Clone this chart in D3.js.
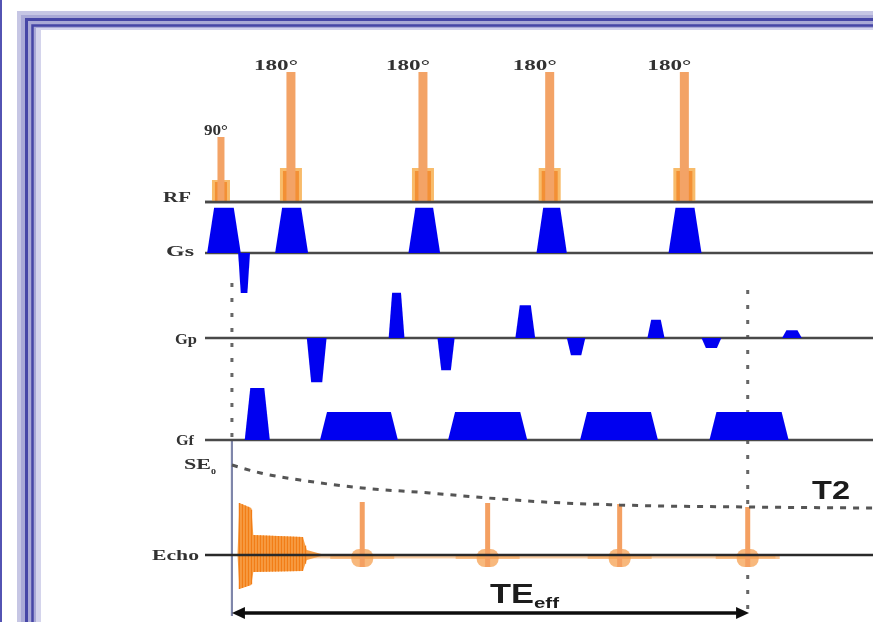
<!DOCTYPE html>
<html>
<head>
<meta charset="utf-8">
<title>Fast spin echo sequence</title>
<script src="https://cdn.jsdelivr.net/npm/d3@7"></script>
<style>
  body { margin: 0; background: #fff; }
  svg { display: block; }
  .lbl { font-family: "Liberation Serif", serif; font-weight: bold; font-size: 15px; fill: #333; }
  .big { font-family: "Liberation Sans", Arial, sans-serif; font-weight: bold; fill: #1a1a1a; }
</style>
</head>
<body>
<div id="chart"></div>
<script>
// --- data (time in ms-ish units, amplitudes normalised) ---
var rfTime = [0, 5.3, 15.3, 24.9, 35.1];
var rfAngle = [90, 180, 180, 180, 180];
var rfLabel = ["90°", "180°", "180°", "180°", "180°"];

// slice select: lobes (start, end, amplitude)
var gsStart = [-1.05, 4.1, 14.2, 23.9, 33.9, 1.3];
var gsEnd   = [1.5, 6.6, 16.6, 26.2, 36.4, 2.2];
var gsAmp   = [0.87, 0.87, 0.87, 0.87, 0.87, -0.77];

// phase encoding
var gpStart = [6.5, 12.7, 16.4, 22.3, 26.2, 32.3, 36.4, 42.5];
var gpEnd   = [8.0, 13.9, 17.7, 23.8, 27.6, 33.6, 37.9, 44.0];
var gpAmp   = [-0.85, 0.87, -0.62, 0.63, -0.33, 0.35, -0.19, 0.15];

// frequency encoding (prephaser + readouts)
var gfStart = [1.8, 7.5, 17.2, 27.2, 37.0];
var gfEnd   = [3.7, 13.4, 23.2, 33.1, 43.0];
var gfAmp   = [1.0, 0.54, 0.54, 0.54, 0.54];

// signal
var echoTime = [10.7, 20.2, 30.2, 39.9];
var echoAmp  = [53, 52, 51, 48];
var fidTime = [1.25, 1.4, 2.3, 2.45, 6.2, 6.5, 7.6];
var fidUp   = [0, 52, 47, 20, 18, 5, 1];
var fidDown = [0, 34, 30, 17, 16, 5, 1];
var t2Time = [0.83, 3, 6, 10.7, 15.8, 20.2, 24.5, 30.2, 39.9, 49.4];
var t2Amp  = [90, 82, 75, 67, 62, 57, 53, 50, 48, 47];

var markTime = [0.83, 39.9];
var teSpan = [0.83, 40.0];

// --- layout ---
var W = 873, H = 622;
var base = {RF: 202, Gs: 253, Gp: 338, Gf: 440, Echo: 555};
// x, baseline, stretched width
var labelPos = {RF: [163, 202, 28], Gs: [166, 256, 28], Gp: [175, 344, 22], Gf: [176, 445, 18], Echo: [152, 560, 47]};

var x = d3.scaleLinear().domain([-1.21, 49.39]).range([205, 873]);
var gy = d3.scaleLinear().domain([0, 1]).range([0, 52]);       // gradient px
var rfy = d3.scaleLinear().domain([0, 180]).range([0, 130]);    // rf px
var ey = d3.scaleLinear().domain([0, 100]).range([base.Echo, base.Echo - 100]);

var svg = d3.select("#chart").append("svg").attr("width", W).attr("height", H);

var defs = svg.append("defs");
defs.append("filter").attr("id", "soft").attr("x", "-5%").attr("y", "-5%").attr("width", "110%").attr("height", "110%")
  .append("feGaussianBlur").attr("stdDeviation", 0.55);

// frame
svg.append("rect").attr("x", 0).attr("y", 0).attr("width", 2).attr("height", H).attr("fill", "#5353b3");
svg.append("rect").attr("x", 17).attr("y", 11).attr("width", 900).attr("height", 700).attr("fill", "#c6c6e4");
svg.append("rect").attr("x", 21).attr("y", 15).attr("width", 900).attr("height", 700).attr("fill", "#a9a9d6");
svg.append("rect").attr("x", 26.5).attr("y", 19.5).attr("width", 900).attr("height", 700)
  .attr("fill", "none").attr("stroke", "#4646a6").attr("stroke-width", 3);
svg.append("rect").attr("x", 32.5).attr("y", 25.5).attr("width", 900).attr("height", 700)
  .attr("fill", "none").attr("stroke", "#4646a6").attr("stroke-width", 2.5);
svg.append("rect").attr("x", 36).attr("y", 28).attr("width", 900).attr("height", 700).attr("fill", "#d4d4ec");
svg.append("rect").attr("x", 41).attr("y", 30).attr("width", 900).attr("height", 700).attr("fill", "#fff");

var g = svg.append("g").attr("filter", "url(#soft)");
g.append("rect").attr("x", 41).attr("y", 30).attr("width", 840).attr("height", 600).attr("fill", "#fff");

// trapezoid lobe
var line = d3.line();
function lobe(t0, t1, amp, y0) {
  var x0 = x(t0), x1 = x(t1), r = Math.min(7, 0.22 * (x1 - x0));
  var h = amp >= 0 ? gy(amp) : -gy(-amp);
  return line([[x0, y0], [x0 + r, y0 - h], [x1 - r, y0 - h], [x1, y0]]) + "Z";
}
function drawLobes(st, en, am, y0) {
  g.append("g").selectAll("path").data(st).enter().append("path")
    .attr("d", function (d, i) { return lobe(st[i], en[i], am[i], y0); })
    .attr("fill", "#0404f0");
}

// dotted timing markers
var mk = g.append("g").attr("stroke", "#666").attr("stroke-width", 3);
mk.append("line").attr("x1", x(markTime[0])).attr("x2", x(markTime[0]))
  .attr("y1", 283).attr("y2", base.Gf).attr("stroke-dasharray", "4,11");
mk.append("line").attr("x1", x(markTime[0])).attr("x2", x(markTime[0]))
  .attr("y1", base.Gf).attr("y2", 616).attr("stroke", "#7f86aa").attr("stroke-width", 2.2);
mk.append("line").attr("x1", x(markTime[1])).attr("x2", x(markTime[1]))
  .attr("y1", 290).attr("y2", 612).attr("stroke-dasharray", "4,11");

// axes lines
var axes = ["RF", "Gs", "Gp", "Gf"];
g.append("g").selectAll("line").data(axes).enter().append("line")
  .attr("x1", 205).attr("x2", W).attr("y1", function (d) { return base[d]; }).attr("y2", function (d) { return base[d]; })
  .attr("stroke", "#4a4a4a").attr("stroke-width", 2.4);

// gradients
drawLobes(gsStart, gsEnd, gsAmp, base.Gs);
drawLobes(gpStart, gpEnd, gpAmp, base.Gp);
drawLobes(gfStart, gfEnd, gfAmp, base.Gf);

// RF pulses
var rf = g.append("g").selectAll("g").data(rfTime).enter().append("g");
rf.append("rect")
  .attr("x", function (d, i) { return x(d) - (rfAngle[i] == 90 ? 9 : 11); })
  .attr("y", function (d, i) { return base.RF - (rfAngle[i] == 90 ? 22 : 34); })
  .attr("width", function (d, i) { return rfAngle[i] == 90 ? 18 : 22; })
  .attr("height", function (d, i) { return rfAngle[i] == 90 ? 22 : 34; })
  .attr("fill", "#f8bb6a");
rf.append("rect")
  .attr("x", function (d, i) { return x(d) - (rfAngle[i] == 90 ? 6 : 8); })
  .attr("y", function (d, i) { return base.RF - (rfAngle[i] == 90 ? 20 : 31); })
  .attr("width", function (d, i) { return rfAngle[i] == 90 ? 12 : 16; })
  .attr("height", function (d, i) { return rfAngle[i] == 90 ? 20 : 31; })
  .attr("fill", "#f39035");
rf.append("rect")
  .attr("x", function (d, i) { return x(d) - (rfAngle[i] == 90 ? 3.5 : 4.5); })
  .attr("y", function (d, i) { return base.RF - rfy(rfAngle[i]); })
  .attr("width", function (d, i) { return rfAngle[i] == 90 ? 7 : 9; })
  .attr("height", function (d, i) { return rfy(rfAngle[i]); })
  .attr("fill", "#f3a366");
rf.append("text").attr("class", "lbl")
  .attr("x", function (d, i) { return x(d) + 7 - (rfAngle[i] == 90 ? 24 : 44); })
  .attr("y", function (d, i) { return base.RF - rfy(rfAngle[i]) - 2; })
  .attr("textLength", function (d, i) { return rfAngle[i] == 90 ? 24 : 44; })
  .attr("lengthAdjust", "spacingAndGlyphs")
  .style("font-size", function (d, i) { return rfAngle[i] == 90 ? "14px" : "15px"; })
  .text(function (d, i) { return rfLabel[i]; });

// re-draw RF axis over block base
g.append("line").attr("x1", 205).attr("x2", W).attr("y1", base.RF).attr("y2", base.RF)
  .attr("stroke", "#4a4a4a").attr("stroke-width", 2.4);

// echo signal
var sig = g.append("g");
sig.append("line").attr("x1", x(1.5)).attr("x2", x(42)).attr("y1", base.Echo + 2).attr("y2", base.Echo + 2)
  .attr("stroke", "#f7a050").attr("stroke-width", 3).attr("opacity", 0.5);
var fidIdx = d3.range(fidTime.length);
sig.append("path")
  .attr("d", d3.area().x(function (i) { return x(fidTime[i]); })
    .y0(function (i) { return ey(-fidDown[i]); }).y1(function (i) { return ey(fidUp[i]); })(fidIdx))
  .attr("fill", "#f7a04a");
// FID texture: thin vertical strokes inside the envelope
var fidX = d3.range(x(1.4), x(6.5), 3);
var env = d3.scaleLinear().domain(fidTime.map(x)).range(fidUp).clamp(true);
var envD = d3.scaleLinear().domain(fidTime.map(x)).range(fidDown).clamp(true);
sig.append("g").selectAll("line").data(fidX).enter().append("line")
  .attr("x1", function (d) { return d; }).attr("x2", function (d) { return d; })
  .attr("y1", function (d) { return ey(env(d)); }).attr("y2", function (d) { return ey(-envD(d)); })
  .attr("stroke", "#f27d18").attr("stroke-width", 1.4);

var ech = sig.selectAll("g.echo").data(echoTime).enter().append("g");
ech.append("rect").attr("x", function (d) { return x(d) - 32; }).attr("y", base.Echo - 1)
  .attr("width", 64).attr("height", 5).attr("fill", "#f7a152").attr("opacity", 0.6);
ech.append("rect").attr("x", function (d) { return x(d) - 11; }).attr("y", base.Echo - 6)
  .attr("width", 22).attr("height", 18).attr("rx", 8).attr("fill", "#f6a050").attr("opacity", 0.75);
ech.append("rect").attr("x", function (d) { return x(d) - 2.5; })
  .attr("y", function (d, i) { return ey(echoAmp[i]); })
  .attr("width", 5).attr("height", function (d, i) { return ey(-12) - ey(echoAmp[i]); })
  .attr("fill", "#f4a062");

g.append("line").attr("x1", 205).attr("x2", W).attr("y1", base.Echo).attr("y2", base.Echo)
  .attr("stroke", "#2a2a2a").attr("stroke-width", 2.4);

// T2 decay
g.append("path")
  .attr("d", d3.line().curve(d3.curveMonotoneX)
    .x(function (i) { return x(t2Time[i]); }).y(function (i) { return ey(t2Amp[i]); })(d3.range(t2Time.length)))
  .attr("fill", "none").attr("stroke", "#555").attr("stroke-width", 3).attr("stroke-dasharray", "6,7");

// TE_eff arrow
var ay = 613, ax0 = x(teSpan[0]), ax1 = x(teSpan[1]);
g.append("line").attr("x1", ax0 + 6).attr("x2", ax1 - 6).attr("y1", ay).attr("y2", ay)
  .attr("stroke", "#111").attr("stroke-width", 3.5);
g.append("path").attr("d", line([[ax0, ay], [ax0 + 13, ay - 6], [ax0 + 13, ay + 6]]) + "Z").attr("fill", "#111");
g.append("path").attr("d", line([[ax1, ay], [ax1 - 13, ay - 6], [ax1 - 13, ay + 6]]) + "Z").attr("fill", "#111");

// labels
var lab = g.append("g");
Object.keys(labelPos).forEach(function (k) {
  lab.append("text").attr("class", "lbl").attr("x", labelPos[k][0]).attr("y", labelPos[k][1])
    .attr("textLength", labelPos[k][2]).attr("lengthAdjust", "spacingAndGlyphs").text(k);
});
var se = lab.append("text").attr("class", "lbl").attr("x", 184).attr("y", 469);
se.append("tspan").attr("textLength", 27).attr("lengthAdjust", "spacingAndGlyphs").text("SE");
se.append("tspan").attr("dy", 5).style("font-size", "10px").text("o");

var te = lab.append("text").attr("class", "big").attr("x", 490).attr("y", 603).style("font-size", "27px");
te.append("tspan").attr("textLength", 44).attr("lengthAdjust", "spacingAndGlyphs").text("TE");
te.append("tspan").attr("dy", 5).style("font-size", "15px").attr("textLength", 25).attr("lengthAdjust", "spacingAndGlyphs").text("eff");

lab.append("text").attr("class", "big").attr("x", 812).attr("y", 499).style("font-size", "25px")
  .attr("textLength", 38).attr("lengthAdjust", "spacingAndGlyphs").text("T2");
</script>
</body>
</html>
